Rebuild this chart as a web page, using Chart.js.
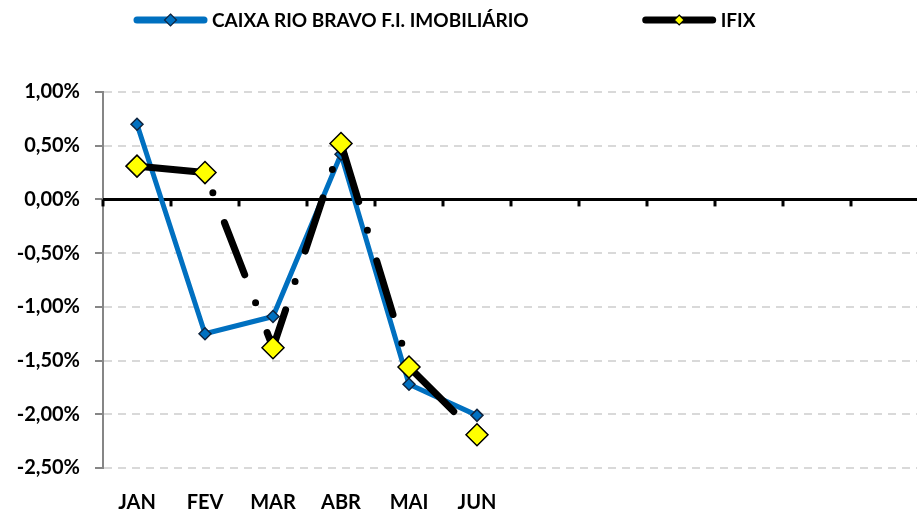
<!DOCTYPE html>
<html>
<head>
<meta charset="utf-8">
<script src="https://cdn.jsdelivr.net/npm/chart.js@4.4.0/dist/chart.umd.min.js"></script>
<style>
  html, body { margin: 0; padding: 0; background: #fff; overflow: hidden; }
  canvas { display: block; }
</style>
</head>
<body>
<canvas id="grafico" width="920" height="514"></canvas>
<script>
// rentabilidade mensal (%)
var meses = ['JAN', 'FEV', 'MAR', 'ABR', 'MAI', 'JUN', '', '', '', '', '', ''];
var caixaRioBravo = [0.70, -1.25, -1.09, 0.42, -1.72, -2.01];
var ifix = [0.31, 0.25, -1.38, 0.52, -1.56, -2.19];
var escalaMin = -2.5;
var escalaMax = 1.0;
var escalaPasso = 0.5;

var fonte = 'Lato, "Open Sans", sans-serif';

function formataPct(v) {
    return v.toFixed(2).replace('.', ',') + '%';
}

// linha do zero com as marcas de divisão das categorias
var linhaZero = {
    id: 'linhaZero',
    beforeDatasetsDraw: function(chart) {
        var ctx = chart.ctx;
        var sx = chart.scales.x;
        var y0 = chart.scales.y.getPixelForValue(0);
        var n = chart.data.labels.length;
        var passo = (sx.right - sx.left) / n;

        ctx.save();
        ctx.strokeStyle = '#000';
        ctx.lineWidth = 3;
        ctx.beginPath();
        ctx.moveTo(sx.left, y0);
        ctx.lineTo(sx.right, y0);
        ctx.stroke();
        for (var i = 0; i <= n; i++) {
            var px = sx.left + i * passo;
            ctx.beginPath();
            ctx.moveTo(px, y0);
            ctx.lineTo(px, y0 + 7);
            ctx.stroke();
        }
        ctx.restore();
    }
};

function losango(ctx, x, y, r, fill, stroke, lw) {
    ctx.beginPath();
    ctx.moveTo(x, y - r);
    ctx.lineTo(x + r, y);
    ctx.lineTo(x, y + r);
    ctx.lineTo(x - r, y);
    ctx.closePath();
    ctx.fillStyle = fill;
    ctx.fill();
    ctx.lineWidth = lw;
    ctx.strokeStyle = stroke;
    ctx.stroke();
}

// legenda desenhada à mão: linha + marcador + texto
var legenda = {
    id: 'legenda',
    afterDraw: function(chart) {
        var ctx = chart.ctx;
        var sets = chart.data.datasets;
        var x = 134, y = 20;
        var amostra = 73;
        ctx.save();
        ctx.font = 'bold 19px ' + fonte;
        ctx.textBaseline = 'middle';
        ctx.textAlign = 'left';
        sets.forEach(function(d, i) {
            ctx.lineCap = 'round';
            ctx.lineWidth = 7;
            ctx.strokeStyle = d.borderColor;
            ctx.setLineDash([]);
            ctx.beginPath();
            ctx.moveTo(x + 3, y);
            ctx.lineTo(x + amostra - 3, y);
            ctx.stroke();
            losango(ctx, x + amostra / 2, y, i === 0 ? 6 : 5, d.pointBackgroundColor, d.pointBorderColor, 1.2);
            ctx.fillStyle = '#000';
            ctx.fillText(d.label, x + amostra + 5, y + 1);
            x += amostra + 5 + ctx.measureText(d.label).width + 114;
        });
        ctx.restore();
    }
};

var ctx = document.getElementById('grafico').getContext('2d');
var chart = new Chart(ctx, {
    type: 'line',
    data: {
        labels: meses,
        datasets: [{
            label: 'CAIXA RIO BRAVO F.I. IMOBILIÁRIO',
            data: caixaRioBravo,
            borderColor: '#0070C0',
            borderWidth: 5,
            pointStyle: 'rectRot',
            pointRadius: 6,
            pointBackgroundColor: '#0070C0',
            pointBorderColor: '#10253F',
            pointBorderWidth: 1.5,
            order: 2
        }, {
            label: 'IFIX',
            data: ifix,
            borderColor: '#000',
            borderWidth: 7,
            borderDash: [56, 30, 0, 32],
            borderDashOffset: -4,
            borderCapStyle: 'round',
            pointStyle: 'rectRot',
            pointRadius: 11,
            pointBackgroundColor: '#FFFF00',
            pointBorderColor: '#000',
            pointBorderWidth: 1.5,
            order: 1
        }]
    },
    options: {
        responsive: false,
        animation: false,
        layout: {
            autoPadding: false,
            padding: { top: 92, right: 1, left: 0, bottom: 0 }
        },
        plugins: {
            legend: { display: false },
            tooltip: { enabled: false }
        },
        scales: {
            x: {
                offset: true,
                grid: { display: false },
                border: { display: false },
                ticks: {
                    autoSkip: false,
                    maxRotation: 0,
                    padding: 15,
                    color: '#000',
                    font: { family: fonte, size: 20, weight: 'bold' }
                },
                afterFit: function(scale) { scale.height = 46; }
            },
            y: {
                min: escalaMin,
                max: escalaMax,
                ticks: {
                    stepSize: escalaPasso,
                    padding: 15,
                    color: '#000',
                    font: { family: fonte, size: 20, weight: 'bold' },
                    callback: function(v) { return formataPct(v); }
                },
                grid: {
                    color: '#D9D9D9',
                    lineWidth: 2,
                    tickLength: 8,
                    tickColor: '#868686',
                    tickWidth: 2,
                    tickBorderDash: []
                },
                border: { display: true, color: '#868686', width: 2, dash: [8, 6] },
                afterFit: function(scale) { scale.width = 103; }
            }
        }
    },
    plugins: [linhaZero, legenda]
});
</script>
</body>
</html>
